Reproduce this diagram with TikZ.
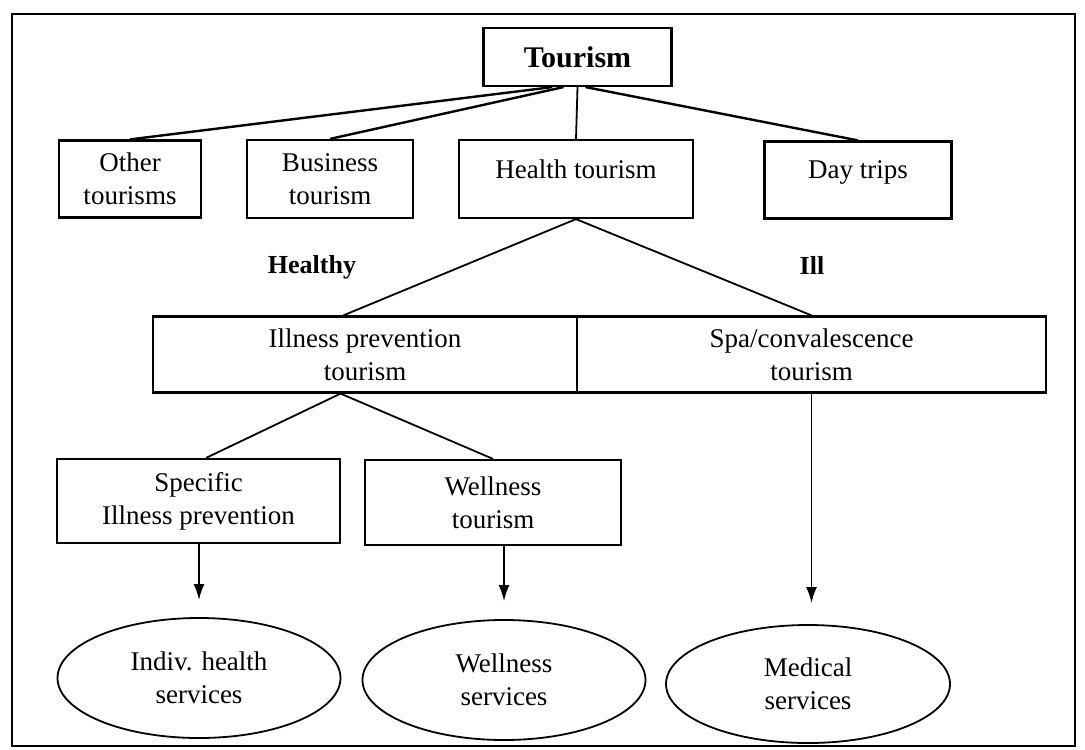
\documentclass[tikz,border=0pt]{standalone}
\usepackage{fontspec}
\setmainfont{Liberation Serif}
\usepackage{xcolor}
\usetikzlibrary{arrows.meta,shapes.geometric,positioning}

\begin{document}
\begin{tikzpicture}[x=0.5pt, y=-0.5pt,
                line/.style={draw, line width=0.9pt},
                >={Latex[length=8pt,width=5.5pt]}]
        \tikzset{
                basic/.style  = {draw, line width=1.1pt, rectangle, inner sep=0pt, align=center,
                                font=\fontsize{13.5}{16.5}\selectfont},
                root/.style   = {basic, font=\fontsize{15}{18}\selectfont\bfseries},
                oval/.style   = {basic, ellipse, line width=0.9pt},
                side/.style   = {font=\fontsize{13}{16}\selectfont\bfseries}
        }
        % frame round the whole picture
        \useasboundingbox (0,0) rectangle (1085,749);
        \draw[line width=0.9pt] (12,14) rectangle (1075,746);

        % root of the tree
        \node[root, minimum width=94pt, minimum height=29pt] (tourism) at (577.5,57) {Tourism};

        % first level
        \node[basic, minimum width=71pt, minimum height=38.5pt] (other) at (130,179) {Other\\tourisms};
        \node[basic, minimum width=83pt, minimum height=39pt] (business) at (330,179) {Business\\tourism};
        \node[basic, minimum width=117pt, minimum height=39pt, text depth=10pt] (health) at (576,179) {Health tourism};
        \node[basic, minimum width=93.5pt, minimum height=38.5pt, text depth=10pt] (daytrips) at (858,180) {Day trips};

        % healthy / ill split
        \node[side] (healthy) at (312,267) {Healthy};
        \node[side] (ill) at (812,265) {Ill};
        \node[basic, minimum width=212pt, minimum height=38pt] (prevention) at (365,354.5) {Illness prevention\\tourism};
        \node[basic, minimum width=234.5pt, minimum height=38pt] (spa) at (811.5,354.5) {Spa/convalescence\\tourism};

        % third level
        \node[basic, minimum width=141.5pt, minimum height=42pt] (specific) at (198.5,501) {Specific\\Illness prevention};
        \node[basic, minimum width=128pt, minimum height=42.5pt] (wellness) at (493,502.5) {Wellness\\tourism};

        % services
        \node[oval, minimum width=141.5pt, minimum height=60pt] (indiv) at (199,678) {Indiv. health\\services};
        \node[oval, minimum width=141.5pt, minimum height=60pt] (wellserv) at (504,680) {Wellness\\services};
        \node[oval, minimum width=142pt, minimum height=59pt] (medical) at (808,684) {Medical\\services};

        \coordinate (a1) at (199,600);
        \coordinate (a2) at (504,601);
        \coordinate (a3) at (811.5,603);

        % lines from tourism to the first level
        \draw[line, line width=1.2pt] (tourism.-130) -- (other.north);
        \draw[line, line width=1.2pt] (tourism.-115) -- (business.north);
        \draw[line] (tourism.south) -- (health.north);
        \draw[line, line width=1.2pt] (tourism.-75) -- (daytrips.north);

        % lines below health tourism
        \draw[line] (health.south) -- (prevention.119);
        \draw[line] (health.south) -- (spa.north);
        \draw[line] (prevention.-122) -- (specific.80);
        \draw[line] (prevention.-122) -- (wellness.north);

        % arrows to the services
        \draw[line, ->] (specific.south -| a1) -- (a1);
        \draw[line, ->] (wellness.south -| a2) -- (a2);
        \draw[line, ->] (spa.south) -- (a3);

\end{tikzpicture}
\end{document}
